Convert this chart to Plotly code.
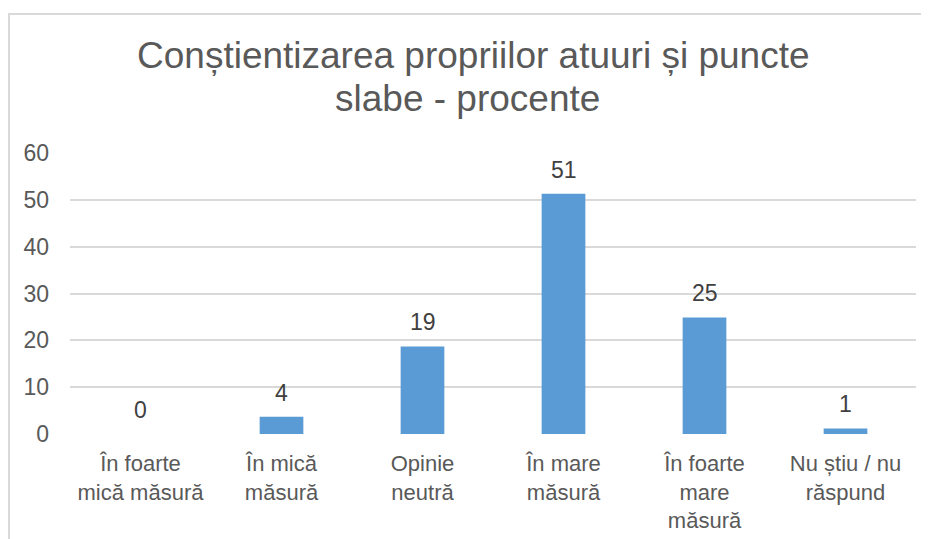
import plotly.graph_objects as go

categories = ["În foarte<br>mică măsură", "În mică<br>măsură", "Opinie<br>neutră",
              "În mare<br>măsură", "În foarte<br>mare<br>măsură", "Nu știu / nu<br>răspund"]
values = [0, 3.7, 18.7, 51.3, 24.9, 1.2]
labels = ["0", "4", "19", "51", "25", "1"]
y_ticks = [0, 10, 20, 30, 40, 50, 60]
title_lines = ["Conștientizarea propriilor atuuri și puncte", "slabe - procente"]

FONT = "Arial, 'Liberation Sans', sans-serif"

# figure sized to fit the window after the 8px body margin
L, R, T, B = 62, 13, 145, 105
W, H = 921, 531
PH = H - T - B
PW = W - L - R

fig = go.Figure()
fig.add_trace(go.Bar(
    x=categories, y=values,
    marker=dict(color="#5B9BD5", line=dict(width=0)),
    width=0.31,
    hoverinfo="skip",
))

for c, v, t in zip(categories, values, labels):
    fig.add_annotation(x=c, y=v, text=t, showarrow=False, yanchor="middle",
                       yshift=24, font=dict(family=FONT, size=23, color="#404040"))

# title as two lines
for txt, fy, fx in zip(title_lines, [48, 91], [465, 459]):
    fig.add_annotation(xref="paper", yref="paper", x=(fx - L) / PW, y=(H - B - fy) / PH,
                       text=txt, showarrow=False, xanchor="center", yanchor="middle",
                       font=dict(family=FONT, size=37, color="#595959"))

# chart border (top and left visible in the reference)
fig.add_shape(type="line", xref="paper", yref="paper", x0=(0 - L) / PW, x1=(W - L) / PW,
              y0=(H - B - 6) / PH, y1=(H - B - 6) / PH, line=dict(color="#d9d9d9", width=2))
fig.add_shape(type="line", xref="paper", yref="paper", x0=(1 - L) / PW, x1=(1 - L) / PW,
              y0=(H - B - 6) / PH, y1=(H - B - H) / PH, line=dict(color="#d9d9d9", width=2))

fig.update_layout(
    width=W, height=H,
    margin=dict(l=L, r=R, t=T, b=B, autoexpand=False),
    paper_bgcolor="white", plot_bgcolor="white",
    showlegend=False,
    font=dict(family=FONT, color="#595959"),
    xaxis=dict(showgrid=False, showline=False, ticks="", zeroline=False,
               automargin=False,
               tickfont=dict(family=FONT, size=22, color="#595959"),
               ticklabelstandoff=14),
    yaxis=dict(range=[0, 60], tickvals=y_ticks, showgrid=True, gridcolor="#d9d9d9",
               gridwidth=1.5, zeroline=False, showline=False, ticks="",
               automargin=False,
               tickfont=dict(family=FONT, size=23, color="#595959"),
               ticklabelstandoff=20),
)

fig.write_html("out.html", config={"displayModeBar": False})
